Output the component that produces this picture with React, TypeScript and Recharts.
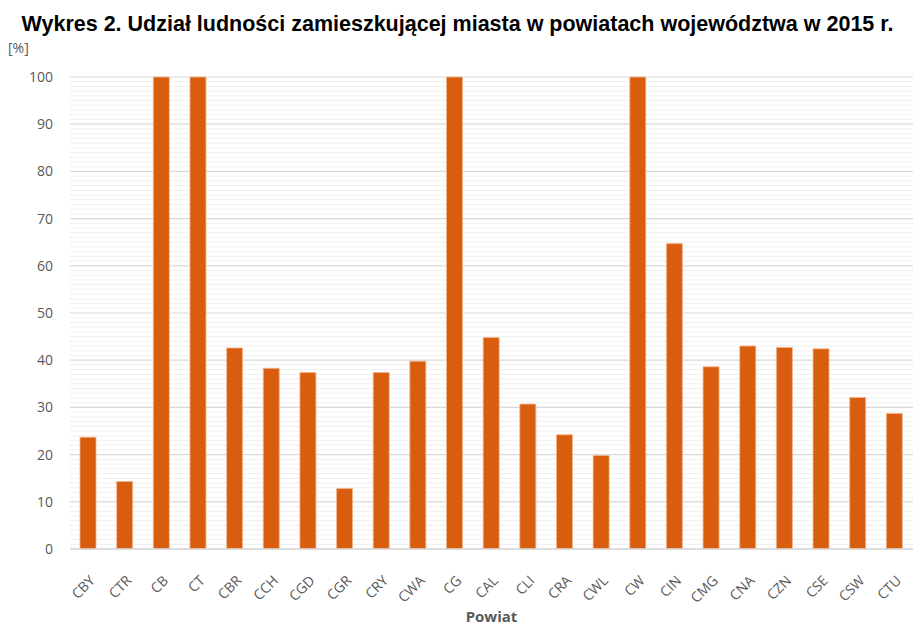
import React from "react";
import { BarChart, Bar, XAxis, YAxis, CartesianGrid } from "recharts";

const powiaty = [
  "CBY", "CTR", "CB", "CT", "CBR", "CCH", "CGD", "CGR", "CRY", "CWA", "CG", "CAL",
  "CLI", "CRA", "CWL", "CW", "CIN", "CMG", "CNA", "CZN", "CSE", "CSW", "CTU",
];
const udzial = [
  23.7, 14.3, 100, 100, 42.6, 38.3, 37.4, 12.8, 37.4, 39.8, 100, 44.8,
  30.7, 24.2, 19.8, 100, 64.7, 38.6, 43.0, 42.7, 42.4, 32.1, 28.7,
];
const yTicks = [0, 10, 20, 30, 40, 50, 60, 70, 80, 90, 100];
const minorTicks = Array.from({ length: 100 }, (_, i) => i).filter((v) => v % 10 !== 0);

const data = powiaty.map((p, i) => ({ powiat: p, value: udzial[i] }));

const FONT = "'Open Sans', 'Liberation Sans', sans-serif";
const GRAY = "#595959";

// rotated category labels
const RotatedTick = ({ x, y, payload }: any) => (
  <text
    x={x - 1}
    y={y + 16}
    transform={`rotate(-45, ${x - 1}, ${y + 16})`}
    textAnchor="end"
    dominantBaseline="hanging"
    fill={GRAY}
    fontSize={14}
    fontFamily={FONT}
  >
    {payload.value}
  </text>
);

// faint minor gridlines every 1%
const minorCoords = ({ yAxis, offset }: any) => {
  if (yAxis && typeof yAxis.scale === "function") {
    return minorTicks.map((v) => yAxis.scale(v));
  }
  return minorTicks.map((v) => offset.top + offset.height * (1 - v / 100));
};

export default function App() {
  return (
    <div style={{ position: "absolute", left: 0, top: 0, width: 915, height: 628, background: "#fff" }}>
      <div
        style={{
          position: "absolute",
          left: 0,
          top: 12,
          width: 915,
          textAlign: "center",
          fontFamily: "'Liberation Sans', Arial, sans-serif",
          fontWeight: "bold",
          fontSize: 21.5,
          color: "#000",
          whiteSpace: "nowrap",
        }}
      >
        Wykres 2. Udział ludności zamieszkującej miasta w powiatach województwa w 2015 r.
      </div>
      <div
        style={{
          position: "absolute",
          left: 8,
          top: 38,
          fontFamily: FONT,
          fontSize: 14,
          color: GRAY,
        }}
      >
        [%]
      </div>
      <BarChart
        width={915}
        height={628}
        data={data}
        margin={{ top: 77, right: 2, left: 0, bottom: 0 }}
      >
        <CartesianGrid
          vertical={false}
          stroke="#f0f0f0"
          strokeWidth={1}
          horizontalCoordinatesGenerator={minorCoords}
        />
        <CartesianGrid vertical={false} stroke="#d9d9d9" strokeWidth={1.2} />
        <XAxis
          dataKey="powiat"
          height={79}
          interval={0}
          tick={<RotatedTick />}
          tickLine={false}
          axisLine={{ stroke: "#d9d9d9", strokeWidth: 1.5 }}
          label={{
            value: "Powiat",
            position: "insideBottom",
            offset: 6,
            fill: GRAY,
            fontSize: 15,
            fontWeight: "bold",
            fontFamily: FONT,
          }}
        />
        <YAxis
          width={70}
          domain={[0, 100]}
          ticks={yTicks}
          interval={0}
          tickSize={0}
          tickMargin={17}
          tickLine={false}
          axisLine={false}
          tick={{ fill: GRAY, fontSize: 14, fontFamily: FONT }}
        />
        <Bar
          dataKey="value"
          fill="#D95D0E"
          stroke="#F3B58E"
          strokeWidth={0.8}
          barSize={16}
          isAnimationActive={false}
        />
      </BarChart>
    </div>
  );
}
